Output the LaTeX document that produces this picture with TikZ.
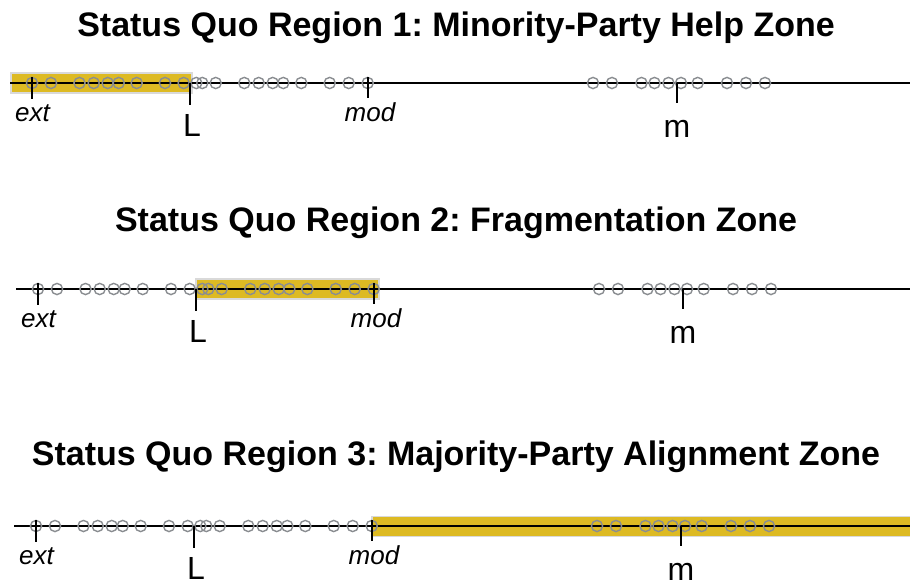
\documentclass[tikz,border=0pt]{standalone}
\usepackage{fontspec}
\setmainfont{Liberation Sans}
\frenchspacing
\definecolor{hlgold}{RGB}{221,186,35}
\definecolor{dotgray}{RGB}{138,141,145}
\tikzset{
  axisline/.style={line width=1.6pt, black},
  dot/.style={draw=dotgray, line width=1.4pt},
  tickline/.style={line width=1.6pt, black},
  hl/.style={fill=hlgold, draw=black!15, line width=1.2pt},
  smalllab/.style={font=\fontsize{26}{30}\selectfont\itshape, inner sep=0pt, anchor=base},
  biglab/.style={font=\fontsize{32}{36}\selectfont, inner sep=0pt, anchor=base},
  ttl/.style={font=\bfseries\fontsize{34}{40}\selectfont, inner sep=0pt, anchor=base}
}
\newcommand\drawpanel[3]{%
  \begin{scope}[shift={(#1,#2)}]
    \draw[axisline] (10,0) -- ({910-#1},0);
    \foreach \cx in {32,51,79.5,93.7,107.7,118.7,136.7,165,183.7,196.3,202.3,215.7,244.3,258.7,272.7,283.3,301.3,329.7,348.7,367.7,593,612,641.5,654.5,668.5,681,697.7,727,746,765}
      \draw[dot] (\cx,0) circle[radius=5.6];
    \draw[tickline] (32,-6) -- (32,16);
    \draw[tickline] (190,0) -- (190,22);
    \draw[tickline] (368,-6) -- (368,15);
    \draw[tickline] (677,0) -- (677,20);
    \node[smalllab] (ext#3) at (32.5,38) {ext};
    \node[smalllab] (mod#3) at (370,38) {mod};
    \node[biglab, anchor=base west] (L#3) at (183,53) {L};
    \node[biglab] (m#3) at (677,54) {m};
  \end{scope}%
}
\begin{document}
\begin{tikzpicture}[x=1pt,y=-1pt]
\useasboundingbox (0,0) rectangle (910,584);
% titles
\node[ttl] (t1) at (456,36) {Status Quo Region 1: Minority-Party Help Zone};
\node[ttl] (t2) at (456,231) {Status Quo Region 2: Fragmentation Zone};
\node[ttl] (t3) at (456,465) {Status Quo Region 3: Majority-Party Alignment Zone};
% highlights
\path[hl] (11,73) rectangle (192,93);
\path[hl] (196,279) rectangle (379,299);
\path[hl] (372,516.5) rectangle (912,536.5);
% panels
\drawpanel{0}{83}{a}
\drawpanel{6}{289}{b}
\drawpanel{4}{526}{c}
\end{tikzpicture}
\end{document}
